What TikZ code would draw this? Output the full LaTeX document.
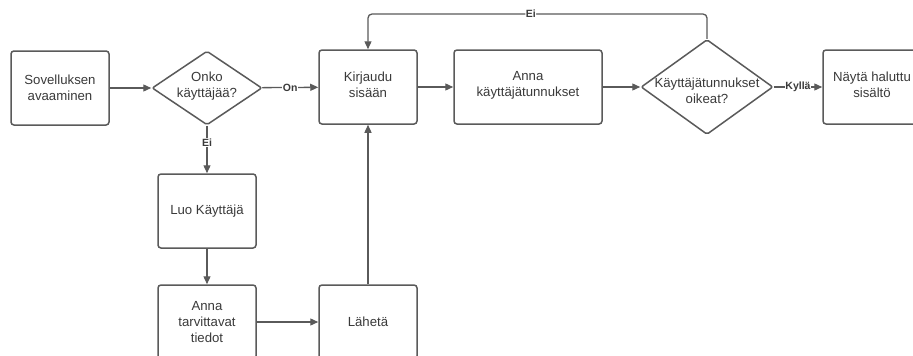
\documentclass[tikz,border=0pt]{standalone}
\usepackage{fontspec}
\setmainfont{Liberation Sans}
\usetikzlibrary{arrows.meta,shapes.geometric,calc}
\definecolor{ln}{HTML}{5A5A5A}
\definecolor{tx}{HTML}{3A3A3A}
\tikzset{
  box/.style={draw=ln, line width=1.5pt, rounded corners=3pt, minimum width=98pt, minimum height=74pt, inner sep=0pt, align=center, text=tx, font=\fontsize{13.2}{16}\selectfont},
  dia/.style={draw=ln, line width=1.5pt, shape=diamond, rounded corners=2pt, inner sep=0pt},
  txt/.style={align=center, text=tx, font=\fontsize{13.2}{16}\selectfont},
  arr/.style={draw=ln, line width=1.3pt, -{Triangle[length=8pt,width=7pt]}},
  lbl/.style={fill=white, inner sep=0.5pt, text=tx, font=\fontsize{10.5}{12}\selectfont\bfseries}
}
\begin{document}
\begin{tikzpicture}[x=1pt,y=-1pt]
\clip (0,0) rectangle (913,356);
\fill[white] (0,0) rectangle (913,356);
\node[box] (sov) at (60,88) {Sovelluksen\\avaaminen};
\node[dia, minimum width=110pt, minimum height=74pt] (d1) at (207,88) {};
\node[txt] (d1t) at (207,86) {Onko\\käyttäjää?};
\node[box] (kir) at (368,87) {};
\node[txt] (kirt) at (368,85) {Kirjaudu\\sisään};
\node[box, minimum width=148pt] (ann) at (528,87) {};
\node[txt] (annt) at (528,85) {Anna\\käyttäjätunnukset};
\node[dia, minimum width=132pt, minimum height=95pt] (d2) at (707,87) {};
\node[txt] (d2t) at (707,91) {Käyttäjätunnukset\\oikeat?};
\node[box] (nay) at (872,87) {};
\node[txt] (nayt) at (872,85) {Näytä haluttu\\sisältö};
\node[box] (luo) at (207,211) {Luo Käyttäjä};
\node[box] (tar) at (207,322) {Anna\\tarvittavat\\tiedot};
\node[box] (lah) at (368,322) {Lähetä};
\coordinate (topy) at (0,14);

\draw[arr] (sov) -- (d1);
\draw[arr] (d1) -- node[lbl, pos=0.5] {On} (kir);
\draw[arr] (kir) -- (ann);
\draw[arr] (ann) -- (d2);
\draw[arr] (d2) -- node[lbl, pos=0.5] {Kyllä} (nay);
\draw[arr, rounded corners=4pt] (d2.north) -- (d2.north |- topy) -- node[lbl, pos=0.52] {Ei} (kir.north |- topy) -- (kir.north);
\draw[arr] (d1.south) -- node[lbl, pos=0.35] {Ei} (luo.north);
\draw[arr] (luo) -- (tar);
\draw[arr] (tar) -- (lah);
\draw[arr] (lah) -- (kir);
\end{tikzpicture}
\end{document}
